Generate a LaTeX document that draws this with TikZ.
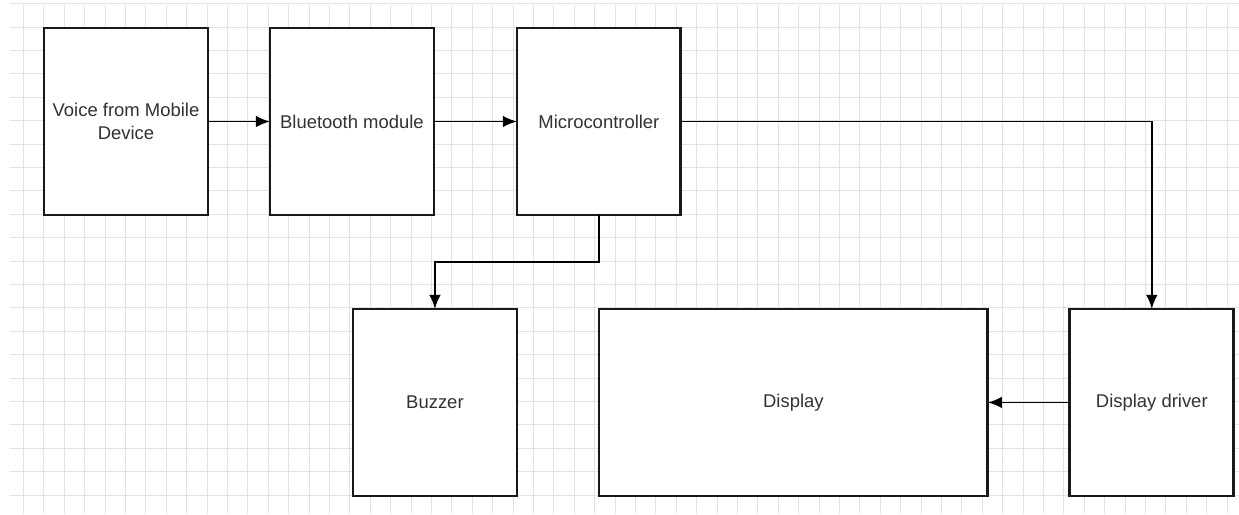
\documentclass[tikz,border=0pt]{standalone}
\usepackage{fontspec}
\setmainfont{Liberation Sans}
\usepackage{tikz}
\usetikzlibrary{arrows.meta, positioning}
\definecolor{gridgray}{RGB}{226,226,226}
\definecolor{boxtext}{RGB}{50,50,50}
\tikzstyle{block} = [rectangle, minimum width=3.28cm, minimum height=3.74cm, inner sep=2pt, outer sep=0pt, align=center, draw=black!90, line width=1.6pt, fill=white, text=boxtext, font=\fontsize{10.5}{13}\selectfont]
\tikzstyle{arrow} = [line width=1pt,-{Latex[length=2.8mm,width=2.3mm]}]

\begin{document}
\begin{tikzpicture}[x=0.02cm, y=-0.02cm]
	\useasboundingbox (0,0) rectangle (1239,514);
	% background grid
	\foreach \i in {0,...,59}
		\draw [gridgray, line width=0.5pt] (23.5+20.4*\i,5) -- (23.5+20.4*\i,514);
	\foreach \j in {0,...,21}
		\draw [gridgray, line width=0.5pt] (10,3.6+23.4*\j) -- (1239,3.6+23.4*\j);

	\node (voice) [block] at (126,121.5) {Voice from Mobile\\Device};
	\node (bluetooth) [block, right=1.24cm of voice] {Bluetooth module};
	\node (micro) [block, right=1.66cm of bluetooth] {Microcontroller};
	\node (buzzer) [block, below left=1.88cm and 0cm of micro.south west] {Buzzer};
	\node (display) [block, minimum width=7.78cm, below right=1.88cm and 0cm of micro.south] {Display};
	\node (driver) [block, right=1.64cm of display] {Display driver};

	\draw [arrow] (voice) -- (bluetooth);
	\draw [arrow] (bluetooth) -- (micro);
	\draw [arrow] (micro.east) -| (driver.north);
	\draw [arrow] (micro.south) -- ++(0,47) -| (buzzer.north);
	\draw [arrow] (driver) -- (display);
\end{tikzpicture}
\end{document}
